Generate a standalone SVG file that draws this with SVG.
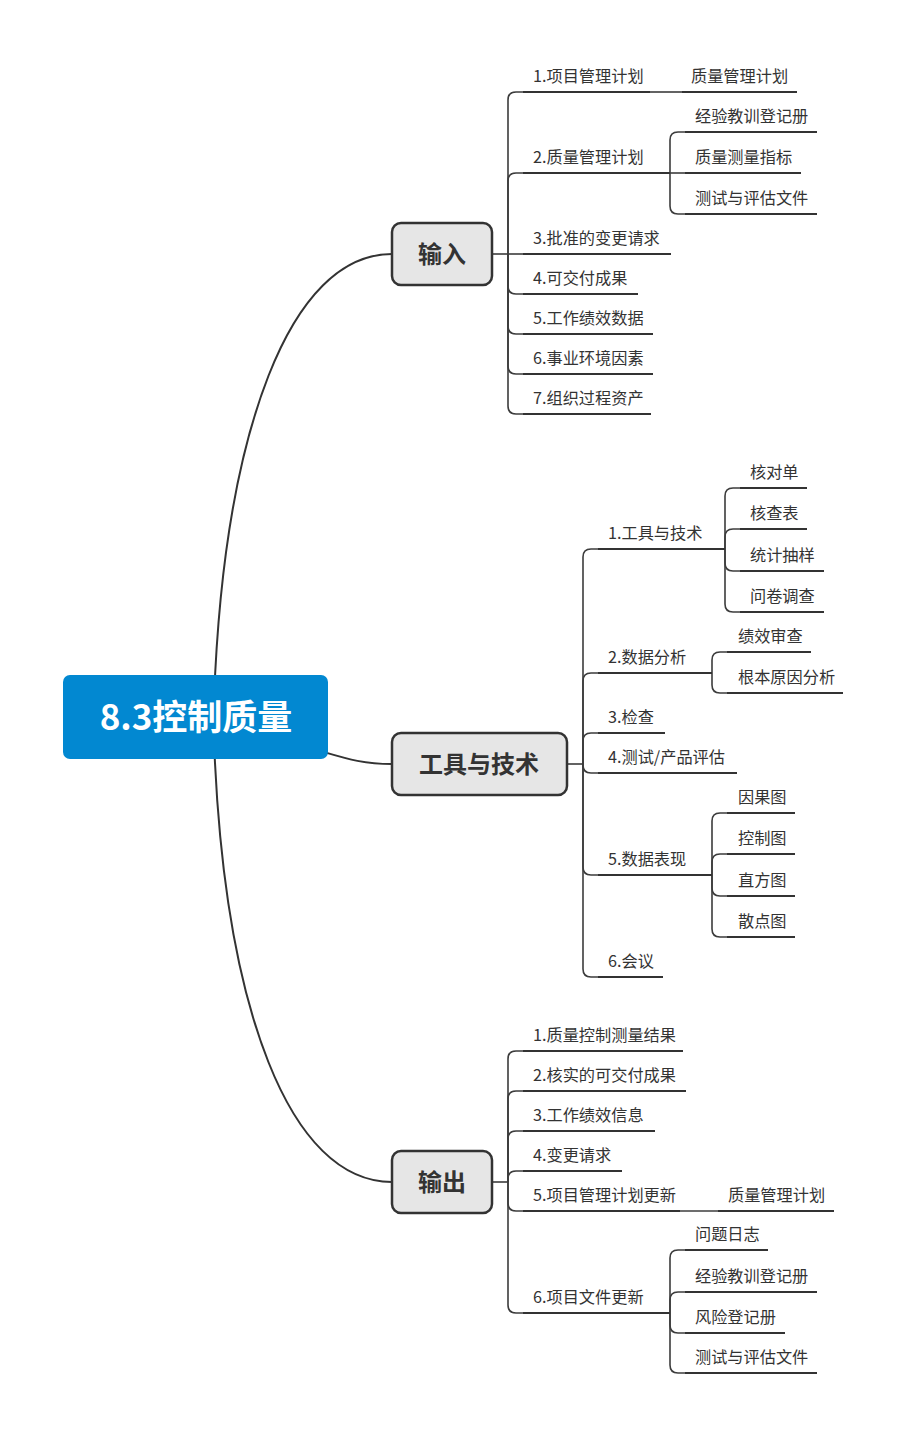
<svg xmlns="http://www.w3.org/2000/svg" width="906" height="1437" viewBox="0 0 906 1437">
<style>
.t{font-family:"Noto Sans CJK SC","Noto Sans",sans-serif;font-size:16.2px;fill:#333}
.ul{stroke:#333;stroke-width:2;fill:none}
.c{stroke:#3c3c3c;stroke-width:1.6;fill:none}
.main{stroke:#333;stroke-width:2;fill:none}
.bn{fill:#e6e6e6;stroke:#333;stroke-width:2.5}
.bt{font-family:"Noto Sans CJK SC","Noto Sans",sans-serif;font-size:24px;font-weight:bold;fill:#333;text-anchor:middle}
</style>
<rect width="906" height="1437" fill="#fff"/>
<g id="connectors">
<path class="main" d="M214 700 C224 430 290 254 392 254"/>
<path class="main" d="M214 740 C224 1010 290 1182 392 1182"/>
<path class="main" d="M310 748 C345 758 360 764 392 764"/>
<!-- input -->
<path class="c" d="M492 254 H508"/>
<path class="c" d="M508 254 V100 Q508 92 516 92 H523"/>
<path class="c" d="M508 254 V181 Q508 173 516 173 H523"/>
<path class="c" d="M508 254 H523"/>
<path class="c" d="M508 254 V286 Q508 294 516 294 H523"/>
<path class="c" d="M508 254 V326 Q508 334 516 334 H523"/>
<path class="c" d="M508 254 V366 Q508 374 516 374 H523"/>
<path class="c" d="M508 254 V406 Q508 414 516 414 H523"/>
<path class="c" d="M650 92 H682"/>
<path class="c" d="M670 173 V140 Q670 132 678 132 H685"/>
<path class="c" d="M670 173 H685"/>
<path class="c" d="M670 173 V206 Q670 214 678 214 H685"/>
<!-- tools -->
<path class="c" d="M567 764 H583"/>
<path class="c" d="M583 764 V557 Q583 549 591 549 H598"/>
<path class="c" d="M583 764 V681 Q583 673 591 673 H598"/>
<path class="c" d="M583 764 V741 Q583 733 591 733 H598"/>
<path class="c" d="M583 764 V765 Q583 773 591 773 H598"/>
<path class="c" d="M583 764 V867 Q583 875 591 875 H598"/>
<path class="c" d="M583 764 V969 Q583 977 591 977 H598"/>
<path class="c" d="M725 549 V496 Q725 488 733 488 H740"/>
<path class="c" d="M725 549 V537 Q725 529 733 529 H740"/>
<path class="c" d="M725 549 V563 Q725 571 733 571 H740"/>
<path class="c" d="M725 549 V604 Q725 612 733 612 H740"/>
<path class="c" d="M712 673 V660 Q712 652 720 652 H727"/>
<path class="c" d="M712 673 V685 Q712 693 720 693 H727"/>
<path class="c" d="M712 875 V821 Q712 813 720 813 H727"/>
<path class="c" d="M712 875 V862 Q712 854 720 854 H727"/>
<path class="c" d="M712 875 V888 Q712 896 720 896 H727"/>
<path class="c" d="M712 875 V929 Q712 937 720 937 H727"/>
<!-- output -->
<path class="c" d="M492 1182 H508"/>
<path class="c" d="M508 1182 V1059 Q508 1051 516 1051 H523"/>
<path class="c" d="M508 1182 V1099 Q508 1091 516 1091 H523"/>
<path class="c" d="M508 1182 V1139 Q508 1131 516 1131 H523"/>
<path class="c" d="M508 1182 V1179 Q508 1171 516 1171 H523"/>
<path class="c" d="M508 1182 V1203 Q508 1211 516 1211 H523"/>
<path class="c" d="M508 1182 V1305 Q508 1313 516 1313 H523"/>
<path class="c" d="M680 1211 H718"/>
<path class="c" d="M670 1313 V1258 Q670 1250 678 1250 H685"/>
<path class="c" d="M670 1313 V1300 Q670 1292 678 1292 H685"/>
<path class="c" d="M670 1313 V1325 Q670 1333 678 1333 H685"/>
<path class="c" d="M670 1313 V1365 Q670 1373 678 1373 H685"/>
</g>
<g id="root">
<rect x="63" y="675" width="265" height="84" rx="7" fill="#0288d1"/>
<text x="196" y="730" font-family="'Noto Sans CJK SC','Noto Sans',sans-serif" font-size="35" font-weight="bold" fill="#fff" text-anchor="middle">8.3控制质量</text>
</g>
<g id="b-input"><rect class="bn" x="392" y="223" width="100" height="62" rx="9"/><text class="bt" x="442" y="263">输入</text></g>
<g id="b-tools"><rect class="bn" x="392" y="733" width="175" height="62" rx="9"/><text class="bt" x="479" y="773">工具与技术</text></g>
<g id="b-output"><rect class="bn" x="392" y="1151" width="100" height="62" rx="9"/><text class="bt" x="442" y="1191">输出</text></g>
<!-- input children -->
<g id="i1"><path class="ul" d="M523 92 H650"/><text class="t" x="533" y="82">1.项目管理计划</text></g>
<g id="i1a"><path class="ul" d="M682 92 H797"/><text class="t" x="691" y="82">质量管理计划</text></g>
<g id="i2"><path class="ul" d="M523 173 H670"/><text class="t" x="533" y="163">2.质量管理计划</text></g>
<g id="i2a"><path class="ul" d="M685 132 H817"/><text class="t" x="695" y="122">经验教训登记册</text></g>
<g id="i2b"><path class="ul" d="M685 173 H801"/><text class="t" x="695" y="163">质量测量指标</text></g>
<g id="i2c"><path class="ul" d="M685 214 H817"/><text class="t" x="695" y="204">测试与评估文件</text></g>
<g id="i3"><path class="ul" d="M523 254 H671"/><text class="t" x="533" y="244">3.批准的变更请求</text></g>
<g id="i4"><path class="ul" d="M523 294 H638"/><text class="t" x="533" y="284">4.可交付成果</text></g>
<g id="i5"><path class="ul" d="M523 334 H653"/><text class="t" x="533" y="324">5.工作绩效数据</text></g>
<g id="i6"><path class="ul" d="M523 374 H653"/><text class="t" x="533" y="364">6.事业环境因素</text></g>
<g id="i7"><path class="ul" d="M523 414 H651"/><text class="t" x="533" y="404">7.组织过程资产</text></g>
<!-- tools children -->
<g id="t1"><path class="ul" d="M598 549 H725"/><text class="t" x="608" y="539">1.工具与技术</text></g>
<g id="t1a"><path class="ul" d="M740 488 H807"/><text class="t" x="750" y="478">核对单</text></g>
<g id="t1b"><path class="ul" d="M740 529 H807"/><text class="t" x="750" y="519">核查表</text></g>
<g id="t1c"><path class="ul" d="M740 571 H824"/><text class="t" x="750" y="561">统计抽样</text></g>
<g id="t1d"><path class="ul" d="M740 612 H824"/><text class="t" x="750" y="602">问卷调查</text></g>
<g id="t2"><path class="ul" d="M598 673 H712"/><text class="t" x="608" y="663">2.数据分析</text></g>
<g id="t2a"><path class="ul" d="M727 652 H811"/><text class="t" x="738" y="642">绩效审查</text></g>
<g id="t2b"><path class="ul" d="M727 693 H843"/><text class="t" x="738" y="683">根本原因分析</text></g>
<g id="t3"><path class="ul" d="M598 733 H665"/><text class="t" x="608" y="723">3.检查</text></g>
<g id="t4"><path class="ul" d="M598 773 H737"/><text class="t" x="608" y="763">4.测试/产品评估</text></g>
<g id="t5"><path class="ul" d="M598 875 H712"/><text class="t" x="608" y="865">5.数据表现</text></g>
<g id="t5a"><path class="ul" d="M727 813 H795"/><text class="t" x="738" y="803">因果图</text></g>
<g id="t5b"><path class="ul" d="M727 854 H795"/><text class="t" x="738" y="844">控制图</text></g>
<g id="t5c"><path class="ul" d="M727 896 H795"/><text class="t" x="738" y="886">直方图</text></g>
<g id="t5d"><path class="ul" d="M727 937 H795"/><text class="t" x="738" y="927">散点图</text></g>
<g id="t6"><path class="ul" d="M598 977 H663"/><text class="t" x="608" y="967">6.会议</text></g>
<!-- output children -->
<g id="o1"><path class="ul" d="M523 1051 H683"/><text class="t" x="533" y="1041">1.质量控制测量结果</text></g>
<g id="o2"><path class="ul" d="M523 1091 H686"/><text class="t" x="533" y="1081">2.核实的可交付成果</text></g>
<g id="o3"><path class="ul" d="M523 1131 H655"/><text class="t" x="533" y="1121">3.工作绩效信息</text></g>
<g id="o4"><path class="ul" d="M523 1171 H622"/><text class="t" x="533" y="1161">4.变更请求</text></g>
<g id="o5"><path class="ul" d="M523 1211 H680"/><text class="t" x="533" y="1201">5.项目管理计划更新</text></g>
<g id="o5a"><path class="ul" d="M718 1211 H834"/><text class="t" x="728" y="1201">质量管理计划</text></g>
<g id="o6"><path class="ul" d="M523 1313 H670"/><text class="t" x="533" y="1303">6.项目文件更新</text></g>
<g id="o6a"><path class="ul" d="M685 1250 H768"/><text class="t" x="695" y="1240">问题日志</text></g>
<g id="o6b"><path class="ul" d="M685 1292 H817"/><text class="t" x="695" y="1282">经验教训登记册</text></g>
<g id="o6c"><path class="ul" d="M685 1333 H785"/><text class="t" x="695" y="1323">风险登记册</text></g>
<g id="o6d"><path class="ul" d="M685 1373 H817"/><text class="t" x="695" y="1363">测试与评估文件</text></g>
</svg>
